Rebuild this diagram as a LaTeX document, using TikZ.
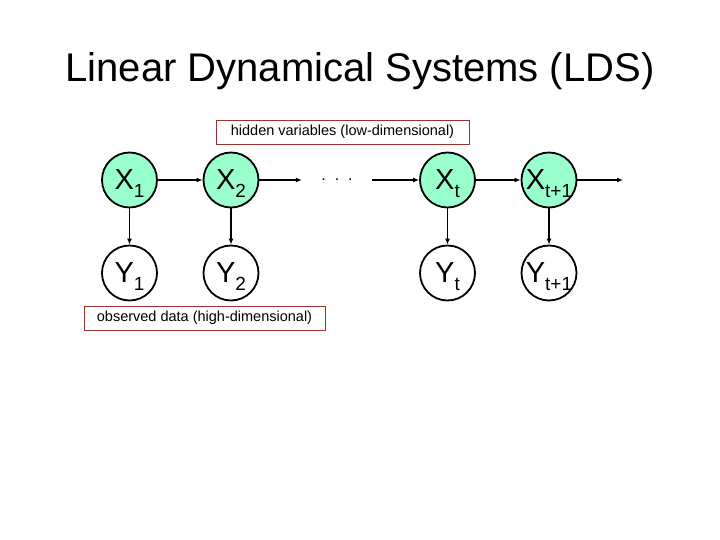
\documentclass[tikz,border=0pt]{standalone}
\usepackage{fontspec}
\setmainfont{Liberation Sans}
\usepackage{xcolor}
\usetikzlibrary{arrows.meta}
\definecolor{nodegreen}{RGB}{153,255,204}
\definecolor{boxred}{RGB}{160,48,48}
\newcommand{\var}[2]{\fontsize{29}{29}\selectfont #1\raisebox{-8pt}[0pt][0pt]{\fontsize{19}{19}\selectfont #2}}

\begin{document}
\begin{tikzpicture}[x=1pt, y=-1pt,
  hid/.style={circle, draw, line width=1.8pt, fill=nodegreen, minimum size=55pt, inner sep=0pt},
  obs/.style={circle, draw, line width=1.8pt, fill=white, minimum size=55pt, inner sep=0pt},
  tag/.style={draw=boxred, line width=0.9pt, inner sep=0pt, font=\fontsize{14.5}{14.5}\selectfont},
  edge/.style={line width=1.6pt, -{Latex[length=6pt,width=5pt]}}]
\useasboundingbox (0,0) rectangle (720,540);
\node[anchor=base] (title) at (360,82) {\fontsize{40}{40}\selectfont Linear Dynamical Systems (LDS)};
\node[tag, minimum width=253pt, minimum height=24pt] (hidden) at (342.5,132) {hidden variables (low-dimensional)};
\node[hid] (x1) at (129.5,180) {\var{X}{1}};
\node[hid] (x2) at (231,180) {\var{X}{2}};
\node[minimum width=70pt, inner sep=0pt] (dots) at (337,180) {\fontsize{16}{16}\selectfont .\ \ .\ \ .};
\node[hid] (xt) at (447.5,180) {\var{X}{t}};
\node[hid] (xt1) at (549,180) {\var{X}{t+1}};
\coordinate (end) at (623,180);
\node[obs] (y1) at (129.5,273) {\var{Y}{1}};
\node[obs] (y2) at (231,273) {\var{Y}{2}};
\node[obs] (yt) at (447.5,273) {\var{Y}{t}};
\node[obs] (yt1) at (549,273) {\var{Y}{t+1}};
\node[tag, minimum width=241pt, minimum height=24pt] (observed) at (204.5,318) {observed data (high-dimensional)};
\draw[edge] (x1) -- (x2);
\draw[edge] (x2) -- (dots);
\draw[edge] (dots) -- (xt);
\draw[edge] (xt) -- (xt1);
\draw[edge] (xt1) -- (end);
\draw[edge] (x1) -- (y1);
\draw[edge] (x2) -- (y2);
\draw[edge] (xt) -- (yt);
\draw[edge] (xt1) -- (yt1);
\end{tikzpicture}
\end{document}
